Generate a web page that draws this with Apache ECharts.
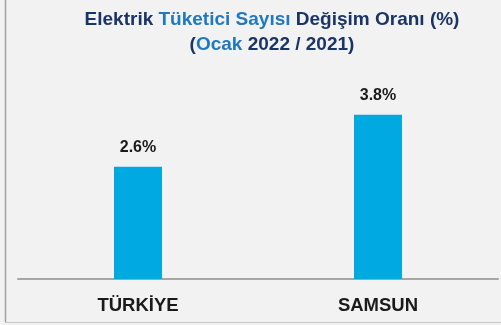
<!DOCTYPE html>
<html>
<head>
<meta charset="utf-8">
<script src="https://cdn.jsdelivr.net/npm/echarts@6/dist/echarts.min.js"></script>
<style>
  html, body { margin: 0; padding: 0; background: #f2f2f2; }
  #chart { width: 501px; height: 325px; }
</style>
</head>
<body>
<div id="chart"></div>
<script>
// Electricity consumer count change rate, January 2022 vs 2021
const categories = ['TÜRKİYE', 'SAMSUN'];
const changeRate = [2.6, 3.8];

const NAVY = '#1a3466';
const BLUE = '#1f78c0';
const FONT = '"Liberation Sans", Arial, sans-serif';

const chart = echarts.init(document.getElementById('chart'));

chart.setOption({
  backgroundColor: '#f2f2f2',
  animation: false,
  grid: { left: 18, right: 3, top: 63, bottom: 46 },
  xAxis: {
    type: 'category',
    data: categories,
    axisLine: { lineStyle: { color: '#a6a6a6', width: 2 } },
    axisTick: { show: false },
    axisLabel: {
      margin: 17,
      fontFamily: FONT,
      fontSize: 18.5,
      fontWeight: 'bold',
      color: '#1a1a1a'
    }
  },
  yAxis: {
    type: 'value',
    min: 0,
    max: 5,
    show: false,
    splitLine: { show: false }
  },
  series: [{
    type: 'bar',
    data: changeRate,
    barWidth: 48,
    itemStyle: { color: '#00a9e2' },
    label: {
      show: true,
      position: 'top',
      distance: 11,
      formatter: p => p.value.toFixed(1) + '%',
      fontFamily: FONT,
      fontSize: 16,
      fontWeight: 'bold',
      color: '#1a1a1a'
    }
  }],
  graphic: [
    {
      type: 'text', x: 272, y: 20,
      style: {
        text: '{n|Elektrik }{b|Tüketici Sayısı }{n|Değişim Oranı (%)}',
        align: 'center', verticalAlign: 'middle',
        rich: {
          n: { fontFamily: FONT, fontSize: 19, fontWeight: 'bold', fill: NAVY },
          b: { fontFamily: FONT, fontSize: 19, fontWeight: 'bold', fill: BLUE }
        }
      }
    },
    {
      type: 'text', x: 272, y: 45,
      style: {
        text: '{n|(}{b|Ocak }{n|2022 / 2021)}',
        align: 'center', verticalAlign: 'middle',
        rich: {
          n: { fontFamily: FONT, fontSize: 19, fontWeight: 'bold', fill: NAVY },
          b: { fontFamily: FONT, fontSize: 19, fontWeight: 'bold', fill: BLUE }
        }
      }
    },
    {
      type: 'line',
      shape: { x1: 5.5, y1: 0, x2: 5.5, y2: 322 },
      style: { stroke: '#a0a0a0', lineWidth: 1.5 }
    },
    {
      type: 'line',
      shape: { x1: 5, y1: 322.5, x2: 501, y2: 322.5 },
      style: { stroke: '#c8c8c8', lineWidth: 1 }
    }
  ]
});
</script>
</body>
</html>
